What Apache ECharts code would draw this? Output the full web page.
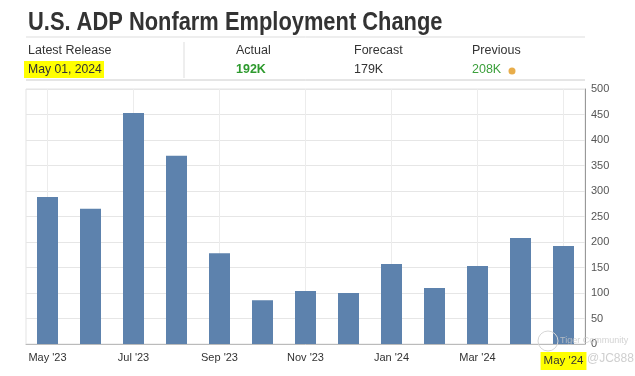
<!DOCTYPE html>
<html>
<head>
<meta charset="utf-8">
<script src="https://cdn.jsdelivr.net/npm/echarts@6/dist/echarts.min.js"></script>
<style>
  html, body { margin: 0; padding: 0; background: #fff; }
  #main { width: 635px; height: 376px; }
</style>
</head>
<body>
<div id="main"></div>
<script>
let months = ["May '23", "Jun '23", "Jul '23", "Aug '23", "Sep '23", "Oct '23", "Nov '23",
    "Dec '23", "Jan '24", "Feb '24", "Mar '24", "Apr '24", "May '24"];
let changes = [288, 265, 453, 369, 178, 86, 104, 100, 157, 110, 153, 208, 192];
let yTicks = [0, 500, 50];

let font = 'Liberation Sans, Arial, sans-serif';
let chart = echarts.init(document.getElementById('main'));

// small helper for the header texts
function label(x, y, text, fill, size, weight) {
    return {
        type: 'text', z: 10,
        style: {x: x, y: y, text: text, fill: fill, font: (weight || 'normal') + ' ' + size + 'px ' + font, textVerticalAlign: 'middle'}
    };
}

chart.setOption({
    animation: false,
    grid: {
        left: 26, right: 50, top: 89, bottom: 32,
        show: true, borderColor: '#e3e3e3', borderWidth: 1
    },
    xAxis: {
        type: 'category',
        data: months,
        axisLine: {lineStyle: {color: '#bbb'}},
        axisTick: {show: false},
        axisLabel: {
            interval: 1,
            color: '#333',
            fontSize: 11,
            fontFamily: font,
            margin: 8,
            formatter: (v, i) => i === months.length - 1 ? '{hl|' + v + '}' : v,
            rich: {hl: {backgroundColor: '#ffff00', color: '#333', fontSize: 11.5, fontFamily: font, padding: [3, 3, 3, 3]}}
        },
        splitLine: {show: true, interval: 1, alignWithLabel: true, lineStyle: {color: '#ececec'}}
    },
    yAxis: {
        type: 'value',
        position: 'right',
        min: yTicks[0], max: yTicks[1], interval: yTicks[2],
        axisLine: {show: true, lineStyle: {color: '#999'}},
        axisTick: {show: false},
        axisLabel: {color: '#555', fontSize: 11, fontFamily: font, margin: 6},
        splitLine: {lineStyle: {color: '#e6e6e6'}}
    },
    series: [{
        type: 'bar',
        data: changes,
        barWidth: 21,
        itemStyle: {color: '#5d82ad'}
    }],
    graphic: [
        {
            type: 'text', z: 10, x: 28, y: 23, scaleX: 0.875,
            style: {x: 0, y: 0, text: 'U.S. ADP Nonfarm Employment Change', fill: '#333', font: 'bold 25px ' + font, textVerticalAlign: 'middle'}
        },
        {type: 'line', shape: {x1: 26, y1: 37, x2: 585, y2: 37}, style: {stroke: '#ddd', lineWidth: 1}},
        {type: 'line', shape: {x1: 184, y1: 42, x2: 184, y2: 78}, style: {stroke: '#ddd', lineWidth: 1}},
        {type: 'line', shape: {x1: 26, y1: 80, x2: 585, y2: 80}, style: {stroke: '#ccc', lineWidth: 1}},
        label(28, 51, 'Latest Release', '#333', 12.5),
        {type: 'rect', shape: {x: 24, y: 61, width: 80, height: 17}, style: {fill: '#ffff00'}},
        label(28, 70, 'May 01, 2024', '#333', 12.2),
        label(236, 51, 'Actual', '#333', 12.5),
        label(236, 70, '192K', '#2e9a2e', 12.5, 'bold'),
        label(354, 51, 'Forecast', '#333', 12.5),
        label(354, 70, '179K', '#333', 12.5),
        label(472, 51, 'Previous', '#333', 12.5),
        label(472, 70, '208K', '#3ca03c', 12.5),
        {type: 'circle', shape: {cx: 512, cy: 71, r: 3.5}, style: {fill: '#e8ad4a'}},
        {type: 'circle', z: 10, shape: {cx: 548, cy: 341, r: 10}, style: {fill: 'none', stroke: '#d6d6d6', lineWidth: 1}},
        label(560, 341, 'Tiger Community', 'rgba(200,200,200,0.8)', 9),
        label(587, 359, '@JC888', '#cfcfcf', 12)
    ]
});
</script>
</body>
</html>
